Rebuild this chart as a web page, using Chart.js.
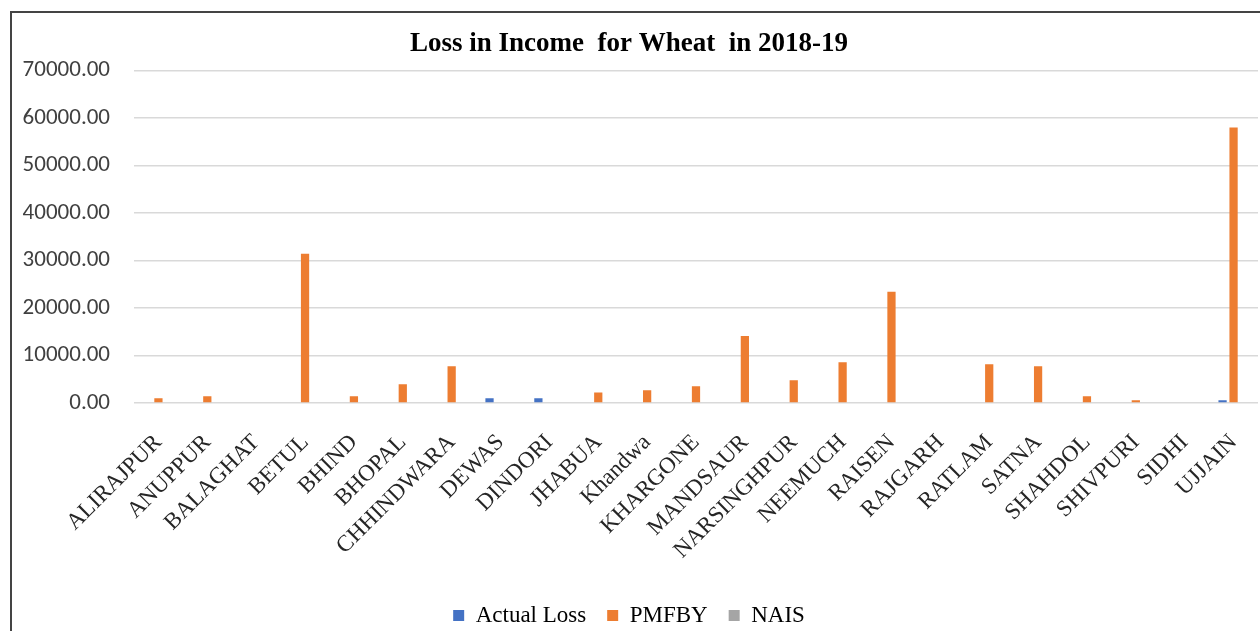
<!DOCTYPE html>
<html>
<head>
<meta charset="utf-8">
<title>Loss in Income for Wheat in 2018-19</title>
<script src="https://cdn.jsdelivr.net/npm/chart.js@4"></script>
<style>
  html, body { margin: 0; padding: 0; background: #fff; overflow: hidden; }
  #frame {
    position: absolute; left: 10px; top: 11px;
    width: 1300px; height: 700px;
    border: 2px solid #444;
  }
  #wrap { position: absolute; left: 0; top: 0; width: 1260px; height: 650px; }
</style>
</head>
<body>
<div id="frame"></div>
<div id="wrap"><canvas id="lossChart" width="1260" height="650"></canvas></div>
<script>
// districts and losses (Rs)
const districts = ['ALIRAJPUR', 'ANUPPUR', 'BALAGHAT', 'BETUL', 'BHIND', 'BHOPAL', 'CHHINDWARA',
    'DEWAS', 'DINDORI', 'JHABUA', 'Khandwa', 'KHARGONE', 'MANDSAUR', 'NARSINGHPUR', 'NEEMUCH',
    'RAISEN', 'RAJGARH', 'RATLAM', 'SATNA', 'SHAHDOL', 'SHIVPURI', 'SIDHI', 'UJJAIN'];

const actualLoss = [0, 0, 0, 0, 0, 0, 0, 1000, 1000, 0, 0, 0, 0, 0, 0, 0, 0, 0, 0, 0, 0, 0, 600];
const pmfby = [1000, 1400, 0, 31400, 1400, 3950, 7750, 0, 0, 2200, 2700, 3500, 14100, 4800, 8600,
    23400, 0, 8150, 7750, 1400, 570, 0, 58000];
const nais = [0, 0, 0, 0, 0, 0, 0, 0, 0, 0, 0, 0, 0, 0, 0, 0, 0, 0, 0, 0, 0, 0, 0];

const yMax = 70000;
const yStep = 10000;

const serif = '"Liberation Serif", "Times New Roman", serif';

function makeSet(label, data, color) {
    return {
        label: label,
        data: data,
        backgroundColor: color,
        borderWidth: 0,
        categoryPercentage: 0.675,
        barPercentage: 0.75
    };
}

const ctx = document.getElementById('lossChart');
new Chart(ctx, {
    type: 'bar',
    data: {
        labels: districts,
        datasets: [
            makeSet('Actual Loss', actualLoss, '#4472C4'),
            makeSet('PMFBY', pmfby, '#ED7D31'),
            makeSet('NAIS', nais, '#A5A5A5')
        ]
    },
    options: {
        responsive: false,
        animation: false,
        layout: { padding: { left: 0, right: 2, top: 0, bottom: 13 } },
        plugins: {
            title: {
                display: true,
                text: 'Loss in Income  for Wheat  in 2018-19',
                color: '#000',
                font: { family: serif, size: 27, weight: 'bold' },
                padding: { top: 28, bottom: 10 }
            },
            legend: {
                position: 'bottom',
                labels: {
                    color: '#000',
                    font: { family: serif, size: 23 },
                    boxWidth: 11,
                    boxHeight: 11,
                    padding: 21
                }
            },
            tooltip: { enabled: false }
        },
        scales: {
            x: {
                grid: { display: false },
                border: { display: false },
                ticks: {
                    color: '#262626',
                    font: { family: serif, size: 23 },
                    minRotation: 45,
                    maxRotation: 45,
                    autoSkip: false,
                    padding: 18
                },
                afterFit: function (scale) {
                    scale.height = 180;
                    scale.paddingRight = 0;
                }
            },
            y: {
                min: 0,
                max: yMax,
                grid: { color: '#d9d9d9', lineWidth: 1.5, drawTicks: false },
                border: { display: false },
                ticks: {
                    stepSize: yStep,
                    color: '#404040',
                    font: { family: 'Carlito, "Liberation Sans", sans-serif', size: 23 },
                    padding: 24,
                    callback: function (v) { return v.toFixed(2); }
                },
                afterFit: function (scale) { scale.width = 134; }
            }
        }
    }
});
</script>
</body>
</html>
